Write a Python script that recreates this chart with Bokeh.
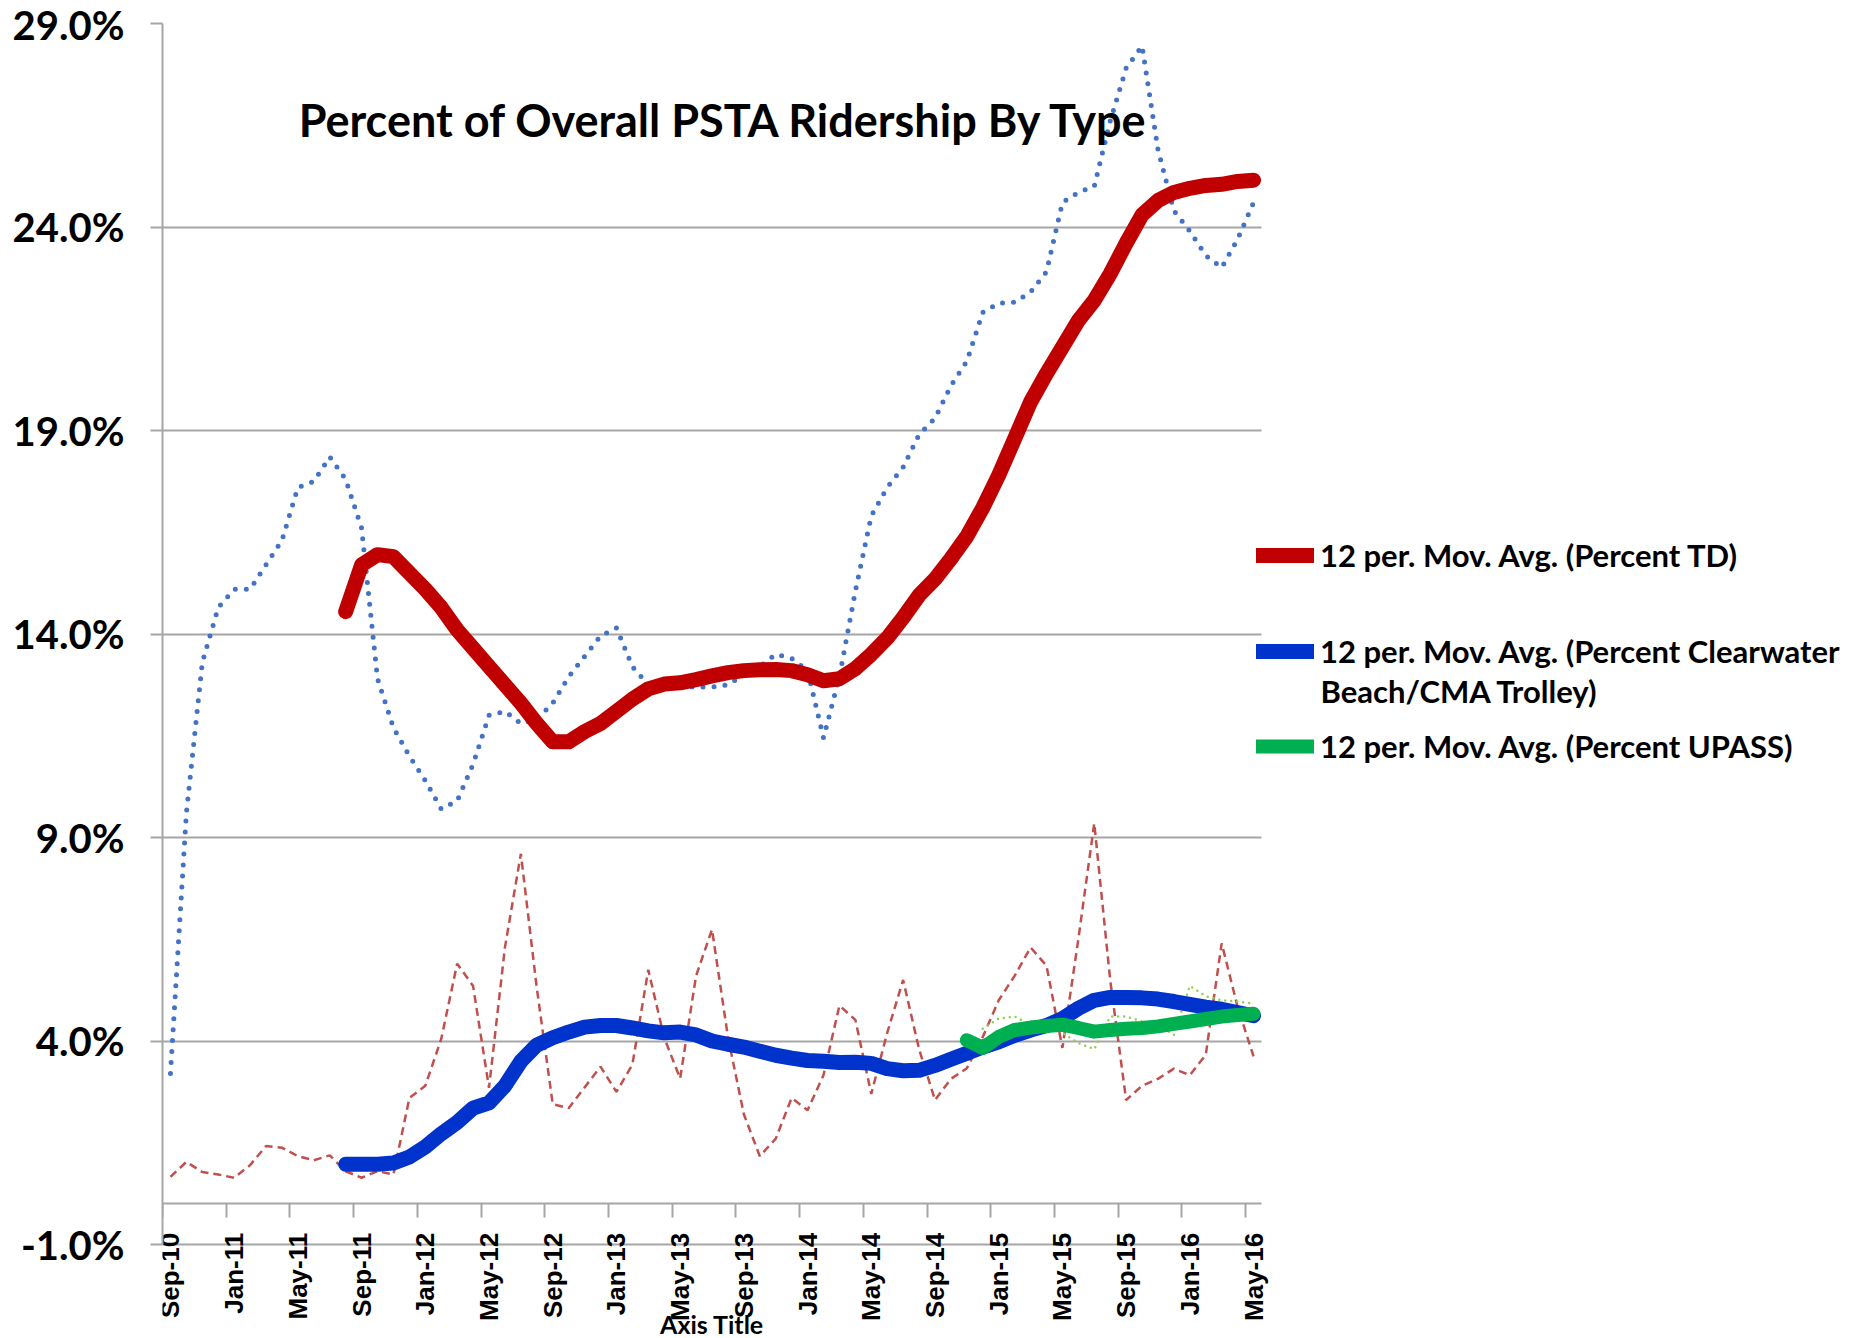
import math
from bokeh.plotting import figure
from bokeh.models import (Range1d, LinearAxis, FixedTicker, Grid, Legend, LegendItem,
                          Label, PrintfTickFormatter)
from bokeh.embed import file_html
from bokeh.resources import INLINE

# ---------------- data (percent of overall ridership) ----------------
# month index 0 = Sep-10 ... 68 = May-16
months = list(range(69))

tick_positions = [0, 4, 8, 12, 16, 20, 24, 28, 32, 36, 40, 44, 48, 52, 56, 60, 64, 68]
tick_labels = ["Sep-10", "Jan-11", "May-11", "Sep-11", "Jan-12", "May-12", "Sep-12",
               "Jan-13", "May-13", "Sep-13", "Jan-14", "May-14", "Sep-14", "Jan-15",
               "May-15", "Sep-15", "Jan-16", "May-16"]

y_ticks = [-1, 4, 9, 14, 19, 24, 29]

# Percent TD (monthly, blue dotted)
percent_td = [3.2, 9.6, 13.3, 14.65, 15.1, 15.1, 15.7, 16.3, 17.6, 17.75, 18.35, 17.8,
              16.6, 12.9, 11.7, 11.0, 10.4, 9.7, 9.9, 10.8, 12.0, 12.1, 11.8, 11.9,
              12.3, 12.95, 13.45, 13.95, 14.15, 13.2, 12.75, 12.7, 12.7, 12.7, 12.7, 12.75,
              13.0, 13.2, 13.5, 13.4, 13.1, 11.45, 12.95, 15.05, 16.9, 17.6, 18.1, 18.9,
              19.3, 20.1, 20.7, 21.9, 22.13, 22.15, 22.4, 22.9, 24.6, 24.85, 25.0, 26.6,
              27.9, 28.45, 25.9, 24.4, 23.9, 23.3, 23.0, 23.7, 24.6]

# Percent Clearwater Beach/CMA Trolley (monthly, red dashed)
percent_cw = [0.66, 1.03, 0.78, 0.72, 0.64, 0.95, 1.42, 1.38, 1.17, 1.07, 1.19, 0.8,
              0.64, 0.8, 0.72, 2.6, 2.9, 4.05, 5.9, 5.35, 2.85, 6.3, 8.6, 5.3,
              2.45, 2.35, 2.86, 3.37, 2.75, 3.42, 5.75, 4.08, 3.08, 5.6, 6.74, 4.1,
              2.2, 1.17, 1.6, 2.6, 2.3, 3.16, 4.87, 4.52, 2.7, 4.2, 5.5, 3.8,
              2.55, 3.07, 3.33, 4.1, 5.0, 5.6, 6.3, 5.85, 3.83, 6.5, 9.35, 5.5,
              2.55, 2.9, 3.07, 3.32, 3.16, 3.66, 6.4, 4.84, 3.62]

# Percent UPASS (monthly, light green dotted) from Apr-15 (index 51)
upass_months = list(range(51, 69))
percent_upass = [4.3, 4.55, 4.6, 4.4, 4.45, 4.2, 3.95, 3.8, 4.6, 4.6, 4.48, 4.4,
                 4.15, 5.35, 5.1, 5.0, 4.97, 4.92]

# 12 per. moving averages
ma_months = list(range(11, 69))
ma_td = [14.55, 15.7, 15.95, 15.9, 15.5, 15.1, 14.65, 14.1, 13.65, 13.2, 12.75, 12.3,
         11.8, 11.35, 11.35, 11.6, 11.8, 12.1, 12.4, 12.65, 12.77, 12.8, 12.88, 12.97,
         13.05, 13.1, 13.12, 13.13, 13.1, 13.0, 12.85, 12.9, 13.15, 13.5, 13.9, 14.4,
         14.95, 15.35, 15.85, 16.4, 17.1, 17.9, 18.8, 19.7, 20.4, 21.05, 21.7, 22.2,
         22.85, 23.6, 24.3, 24.65, 24.85, 24.95, 25.02, 25.05, 25.12, 25.15]

ma_cw = [0.97, 0.97, 0.97, 1.0, 1.15, 1.4, 1.72, 2.0, 2.35, 2.48, 2.9, 3.5,
         3.9, 4.08, 4.22, 4.34, 4.38, 4.38, 4.32, 4.25, 4.2, 4.22, 4.15, 4.0,
         3.92, 3.85, 3.75, 3.65, 3.58, 3.52, 3.5, 3.47, 3.48, 3.45, 3.32, 3.27,
         3.28, 3.4, 3.55, 3.7, 3.85, 3.98, 4.14, 4.27, 4.38, 4.55, 4.8, 5.0,
         5.07, 5.07, 5.06, 5.03, 4.97, 4.9, 4.83, 4.78, 4.7, 4.62]

ma_upass_months = list(range(50, 69))
ma_upass = [4.02, 3.83, 4.1, 4.27, 4.33, 4.37, 4.4, 4.32, 4.23, 4.27, 4.3, 4.32,
            4.36, 4.42, 4.48, 4.54, 4.6, 4.64, 4.67]

legend_labels = ["12 per. Mov. Avg. (Percent TD)",
                 "12 per. Mov. Avg. (Percent Clearwater",
                 "12 per. Mov. Avg. (Percent UPASS)"]
legend_second_line = "Beach/CMA Trolley)"
title_text = "Percent of Overall PSTA Ridership By Type"

# ---------------- layout ----------------
W, H = 1865, 1338
FL, FR, FT, FB = 162, 1261, 23, 1244      # chart body edges (canvas px)
GRID = "#A6A6A6"
FONT = "Lato"

X0, X1 = -0.5, 68.5                       # category range (between tick marks)
Y0, Y1 = -1.0, 29.0
px_month = (FR - FL) / (X1 - X0)
px_pct = (FB - FT) / (Y1 - Y0)
# frame extends to canvas right/bottom so that legend and axis texts are not clipped
x_end = X0 + (W - FL) / px_month
y_start = Y1 - (H - FT) / px_pct

p = figure(width=W, height=H, x_range=Range1d(X0, x_end), y_range=Range1d(y_start, Y1),
           x_axis_type=None, y_axis_type=None, output_backend="svg",
           toolbar_location=None, min_border_left=FL, min_border_right=0,
           min_border_top=FT, min_border_bottom=0)
p.outline_line_color = None
p.background_fill_color = "white"
p.border_fill_color = "white"

yaxis = LinearAxis(ticker=FixedTicker(ticks=y_ticks), bounds=(Y0, Y1),
                   formatter=PrintfTickFormatter(format="%.1f%%"),
                   axis_line_color=GRID, axis_line_width=2,
                   major_tick_line_color=GRID, major_tick_line_width=2,
                   major_tick_out=12, major_tick_in=0, minor_tick_line_color=None,
                   major_label_standoff=26, major_label_text_font=FONT,
                   major_label_text_font_style="bold", major_label_text_font_size="40px",
                   major_label_text_color="black")
p.add_layout(yaxis, "left")

try:
    p.add_layout(Grid(dimension=1, ticker=FixedTicker(ticks=y_ticks), cross_bounds=(X0, X1),
                      grid_line_color=GRID, grid_line_width=2))
except AttributeError:
    p.segment(x0=[X0] * len(y_ticks), x1=[X1] * len(y_ticks), y0=y_ticks, y1=y_ticks,
              line_color=GRID, line_width=2)

# category axis crossing at 0 : tick marks on category boundaries
xticks_axis = LinearAxis(ticker=FixedTicker(ticks=[t - 0.5 for t in tick_positions]),
                         fixed_location=0, bounds=(X0, X1),
                         axis_line_color=GRID, axis_line_width=2,
                         major_tick_line_color=GRID, major_tick_line_width=2,
                         major_tick_out=14, major_tick_in=0, minor_tick_line_color=None,
                         major_label_text_color=None)
p.add_layout(xticks_axis, "below")
xlabels_axis = LinearAxis(ticker=FixedTicker(ticks=tick_positions), fixed_location=0,
                          bounds=(X0, X1),
                          major_label_overrides={pos: lab for pos, lab in zip(tick_positions, tick_labels)},
                          major_label_orientation=math.pi / 2,
                          axis_line_color=None, major_tick_line_color=None,
                          major_tick_out=0, major_tick_in=0, minor_tick_line_color=None,
                          major_label_standoff=29, major_label_text_font="Liberation Sans",
                          major_label_text_font_style="bold", major_label_text_font_size="26px",
                          major_label_text_color="black")
p.add_layout(xlabels_axis, "below")

# raw monthly series
p.line(months, percent_cw, line_color="#C0504D", line_width=2.5, line_dash="8 5")
p.line(upass_months, percent_upass, line_color="#92D050", line_width=2.5,
       line_dash="0 6", line_cap="round")
p.line(months, percent_td, line_color="#4472C4", line_width=5, line_dash="0 11",
       line_cap="round")

# moving averages
r_td = p.line(ma_months, ma_td, line_color="#C00000", line_width=15,
              line_cap="round", line_join="round")
r_cw = p.line(ma_months, ma_cw, line_color="#0033CC", line_width=15,
              line_cap="round", line_join="round")
r_up = p.line(ma_upass_months, ma_upass, line_color="#00B050", line_width=14,
              line_cap="round", line_join="round")

# legends (one per entry, positioned like the reference; offsets from frame left / bottom)
LEG_X = 1256 - FL
LEG_H = 38
GW, GS = 58, 6
LEG_FONT = "31px"
for r, lab, cy in zip([r_td, r_cw, r_up], legend_labels, [555, 651, 746]):
    leg = Legend(items=[LegendItem(label=lab, renderers=[r])],
                 location=(LEG_X, H - (cy + LEG_H / 2)),
                 border_line_color=None, background_fill_alpha=0, padding=0, margin=0,
                 spacing=0, glyph_width=GW, glyph_height=LEG_H, label_height=LEG_H,
                 label_standoff=GS, label_text_font=FONT, label_text_font_style="bold",
                 label_text_font_size=LEG_FONT, label_text_color="black",
                 label_text_baseline="middle")
    p.add_layout(leg)

p.add_layout(Label(x=LEG_X + GW + GS, y=H - 690, x_units="screen", y_units="screen",
                   text=legend_second_line, text_font=FONT, text_font_style="bold",
                   text_font_size=LEG_FONT, text_color="black", text_baseline="middle"))

p.add_layout(Label(x=724 - FL, y=H - 119, x_units="screen", y_units="screen",
                   text=title_text, text_font=FONT, text_font_style="bold",
                   text_font_size="45px", text_color="black", text_align="center",
                   text_baseline="middle"))

p.add_layout(Label(x=(FR - FL) / 2, y=H - 1323, x_units="screen", y_units="screen",
                   text="Axis Title", text_font=FONT, text_font_style="bold",
                   text_font_size="25px", text_color="black", text_align="center",
                   text_baseline="middle"))

open("out.html", "w").write(file_html(p, INLINE, "Percent of Overall PSTA Ridership By Type"))
